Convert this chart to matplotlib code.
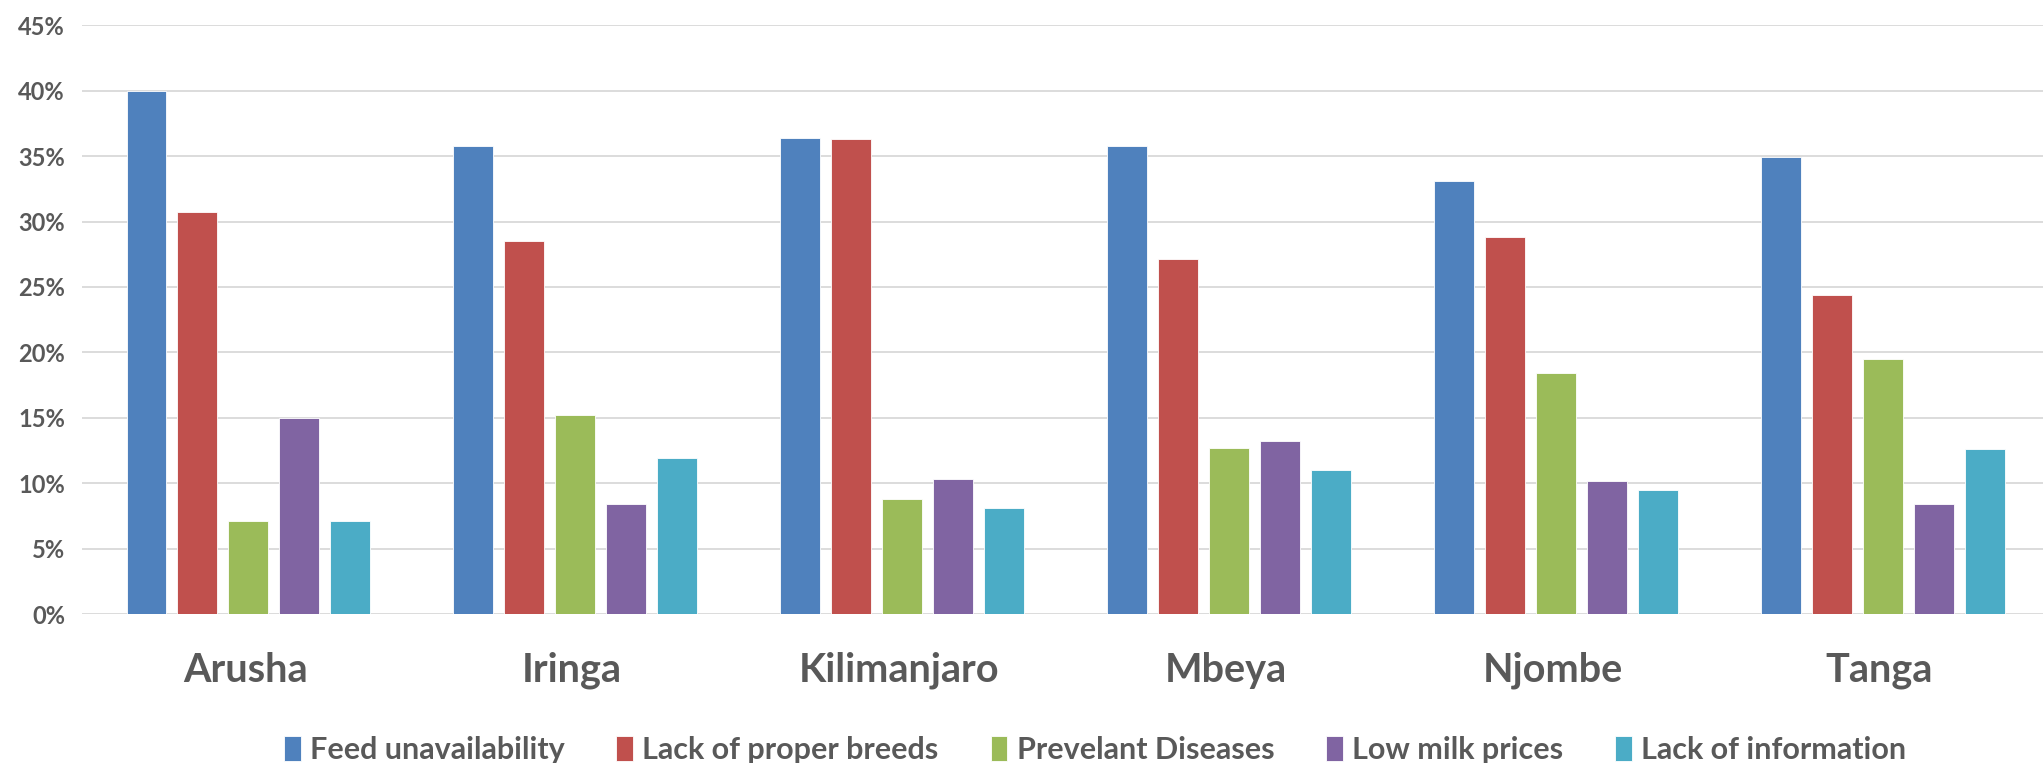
import numpy as np
import matplotlib
matplotlib.use("Agg")
import matplotlib.pyplot as plt
from matplotlib.ticker import PercentFormatter

regions = ["Arusha", "Iringa", "Kilimanjaro", "Mbeya", "Njombe", "Tanga"]
series_names = ["Feed unavailability", "Lack of proper breeds", "Prevelant Diseases",
                "Low milk prices", "Lack of information"]
feed = [40.0, 35.8, 36.4, 35.8, 33.1, 34.9]
breeds = [30.7, 28.5, 36.3, 27.1, 28.8, 24.4]
diseases = [7.1, 15.2, 8.8, 12.7, 18.4, 19.5]
milk_prices = [15.0, 8.4, 10.3, 13.2, 10.2, 8.4]
information = [7.1, 11.9, 8.1, 11.0, 9.5, 12.6]
colors = ["#4F81BD", "#C0504D", "#9BBB59", "#8064A2", "#4BACC6"]

plt.rcParams['font.family'] = ['Lato', 'DejaVu Sans']

fig = plt.figure(figsize=(20.43, 7.63), dpi=100)
ax = fig.add_axes([0.040, 0.195, 0.960, 0.772])

x = np.arange(len(regions))
width = 0.122
step = 0.156
all_series = [feed, breeds, diseases, milk_prices, information]
for i, (vals, name, c) in enumerate(zip(all_series, series_names, colors)):
    ax.bar(x + (i - 2) * step + 0.01, vals, width, color=c, label=name,
           edgecolor="white", linewidth=0.6, zorder=3)

ax.set_ylim(0, 45)
ax.set_xlim(-0.5, len(regions) - 0.5)
ax.set_yticks(np.arange(0, 46, 5))
ax.yaxis.set_major_formatter(PercentFormatter(decimals=0))
ax.grid(axis="y", color="#D9D9D9", linewidth=1.3, zorder=0)
for s in ax.spines.values():
    s.set_visible(False)
ax.tick_params(axis="both", length=0)
ax.tick_params(axis="y", labelsize=17, labelcolor="#595959", pad=12)
for t in ax.get_yticklabels():
    t.set_fontweight("bold")
ax.set_xticks(x)
ax.set_xticklabels(regions, fontsize=28.5, fontweight="bold", color="#595959")
ax.tick_params(axis="x", pad=27)

leg = fig.legend(loc="lower center", bbox_to_anchor=(0.536, -0.037), ncol=5, frameon=False,
                 handlelength=0.55, handleheight=0.9, handletextpad=0.3, columnspacing=1.7,
                 prop={"size": 22, "weight": "bold"})
for t in leg.get_texts():
    t.set_color("#595959")

fig.savefig("out.png", dpi=100)
